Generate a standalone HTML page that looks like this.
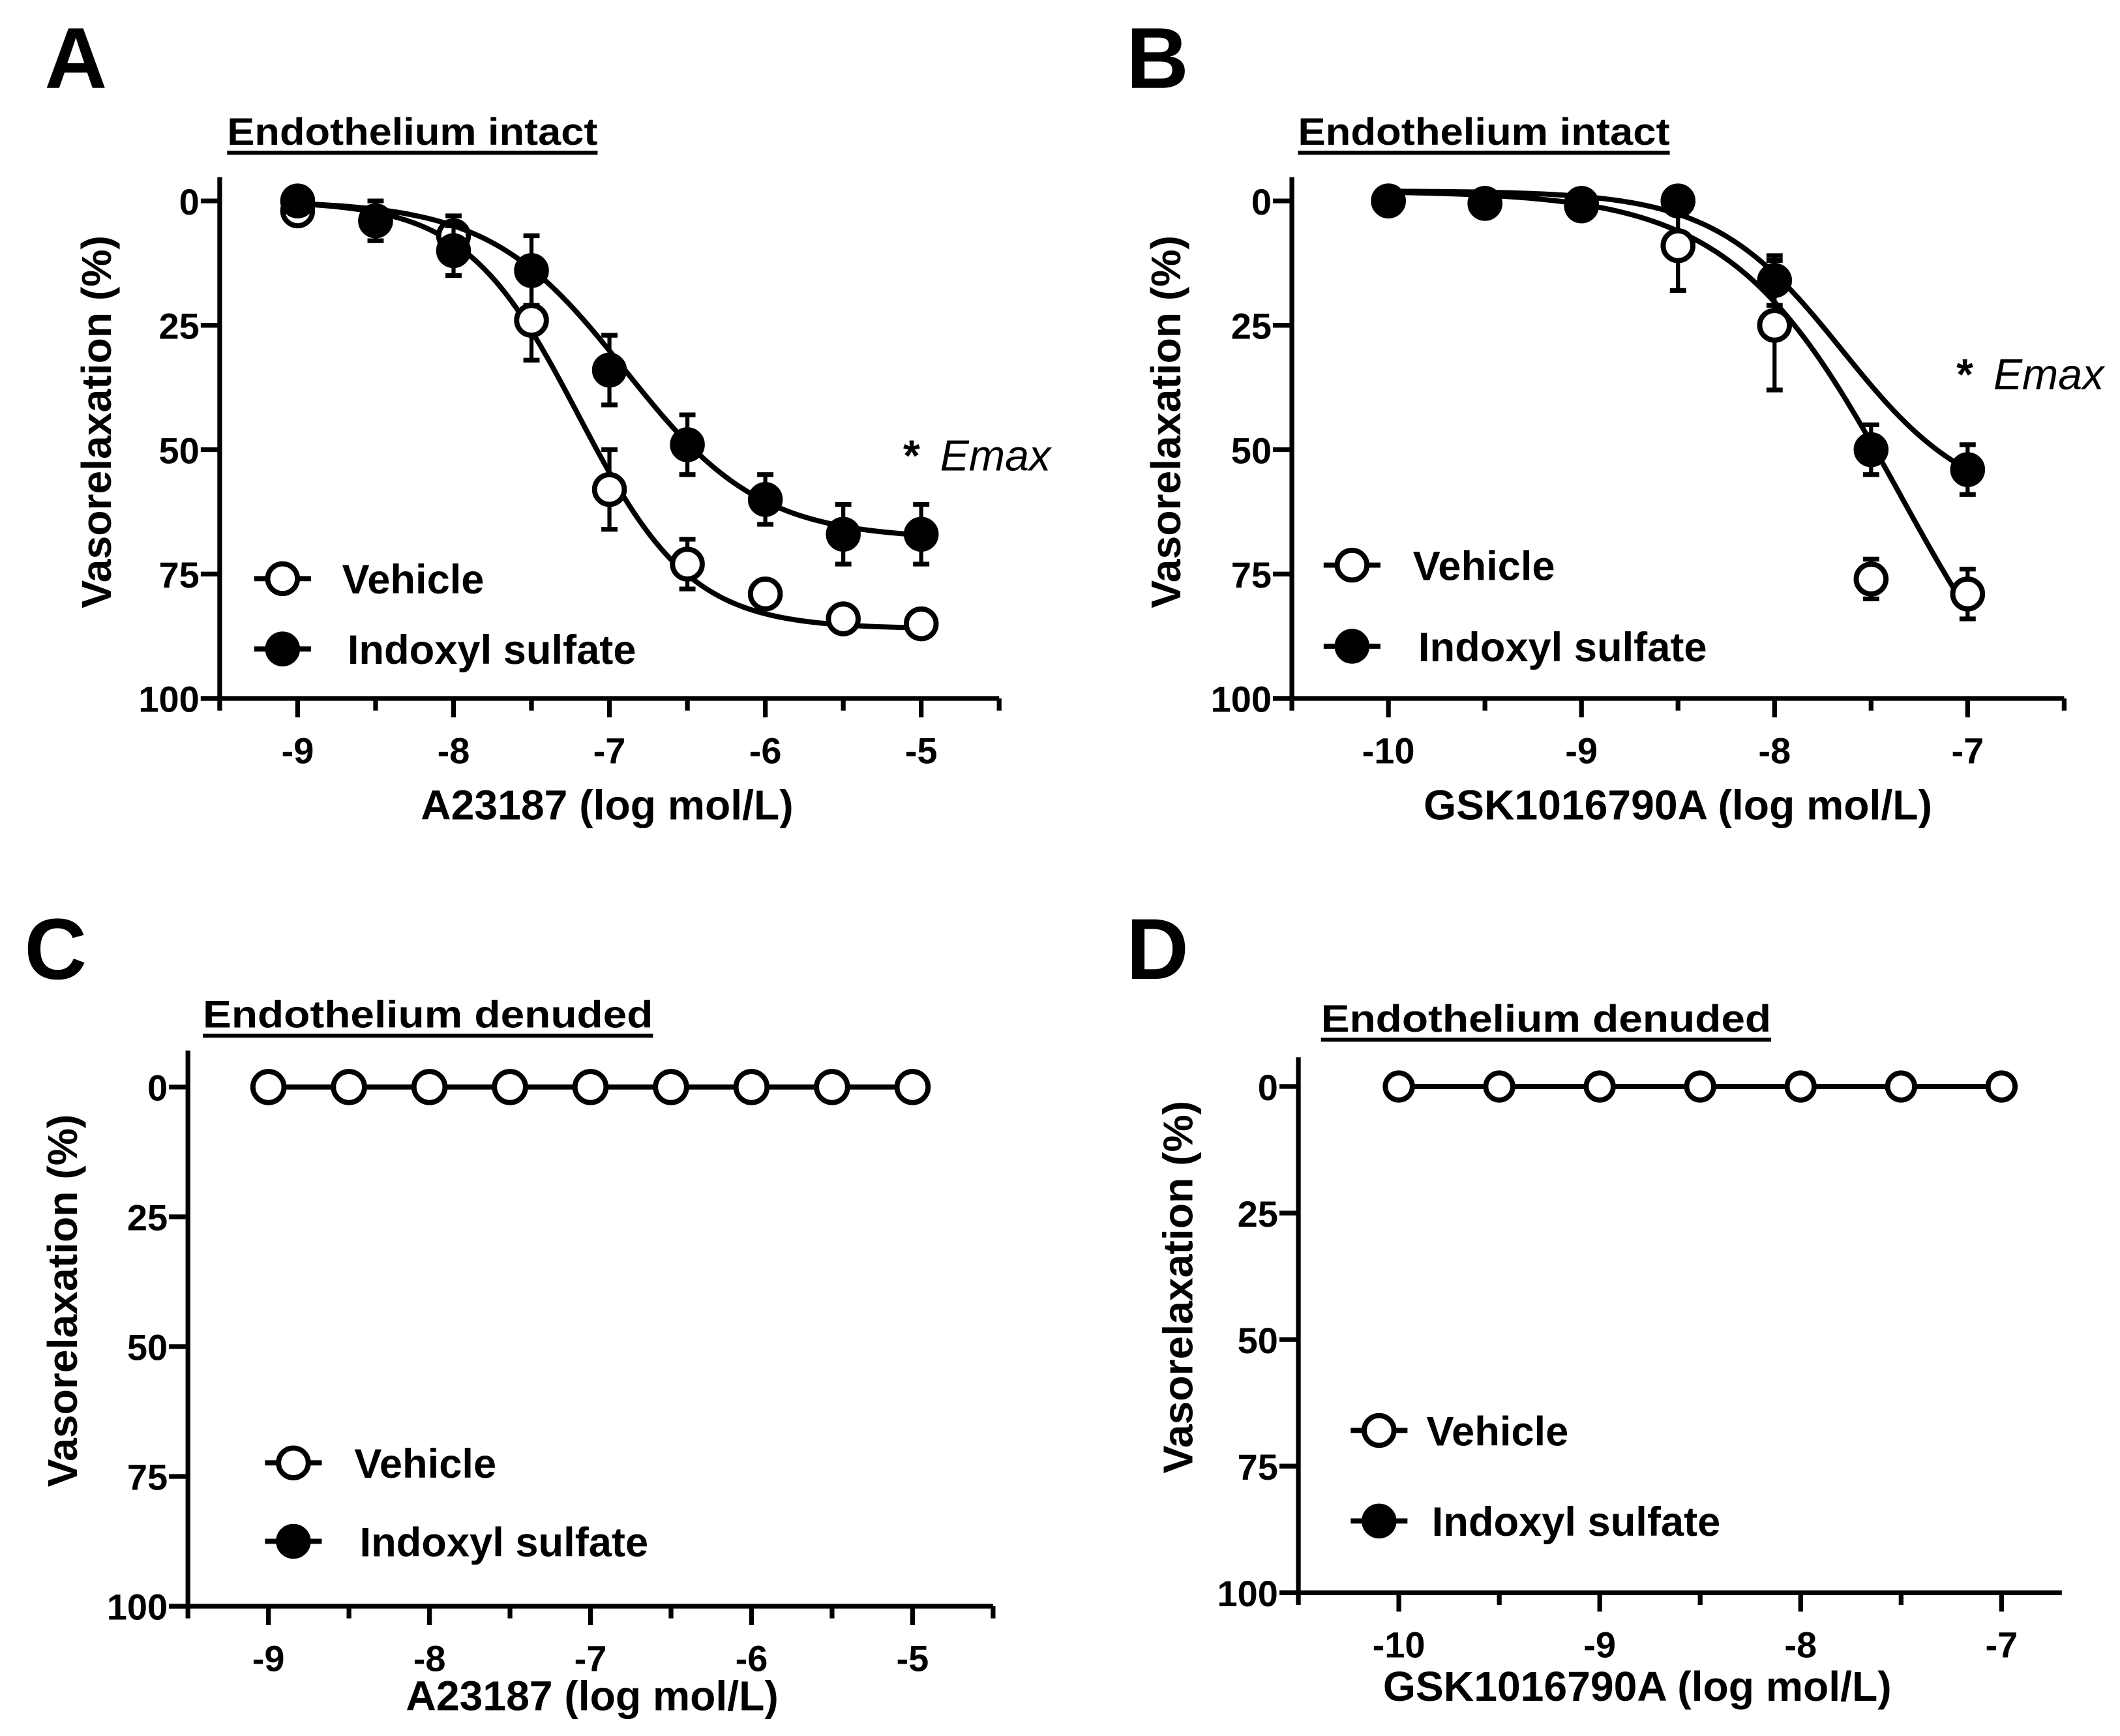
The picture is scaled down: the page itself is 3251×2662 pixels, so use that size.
<!DOCTYPE html>
<html><head><meta charset="utf-8"><style>
html,body{margin:0;padding:0;background:#fff;}
svg{display:block;}
text{font-family:"Liberation Sans",Arial,sans-serif;fill:#000;}
</style></head><body>
<svg id="fig" width="3251" height="2662" viewBox="0 0 1568 1284" preserveAspectRatio="none" xmlns="http://www.w3.org/2000/svg"></svg>
<script>
// ---- Panel A data ----
const aDoses = [-9,-8.5,-8,-7.5,-7,-6.5,-6,-5.5,-5];
const aVehicle = [2,4,7,24,58,73,79,84,85];
const aVehicleErr = [1,2,4,8,8,5,2,2,2];
const aIndoxyl = [0,4,10,14,34,49,60,67,67];
const aIndoxylErr = [1,4,5,7,7,6,5,6,6];
const aVehicleFit = [0,86,-7.2,1.2];
const aIndoxylFit = [0,68,-6.9,1.0];
// ---- Panel B data ----
const bDoses = [-10,-9.5,-9,-8.5,-8,-7.5,-7];
const bVehicle = [0,0.5,1,9,25,76,79];
const bVehicleErr = [1,1,1,9,13,4,5];
const bIndoxyl = [0,0.5,0.5,0,16,50,54];
const bIndoxylErr = [1,1,1,1,5,5,5];
const bVehicleFit = [-2,120,-7.35,1.0];
const bIndoxylFit = [-2,62,-7.65,1.3];
// ---- Panel C / D data ----
const cDoses = [-9,-8.5,-8,-7.5,-7,-6.5,-6,-5.5,-5];
const cVehicle = [0,0,0,0,0,0,0,0,0];
const dDoses = [-10,-9.5,-9,-8.5,-8,-7.5,-7];
const dVehicle = [0,0,0,0,0,0,0];
const yTicks = [0,25,50,75,100];
const aXTicks = [-9,-8,-7,-6,-5];
const bXTicks = [-10,-9,-8,-7];

const NS="http://www.w3.org/2000/svg";
const svg=document.getElementById('fig');
function el(tag,attrs,parent,txt){const e=document.createElementNS(NS,tag);for(const k in attrs)e.setAttribute(k,attrs[k]);if(txt!==undefined)e.textContent=txt;(parent||svg).appendChild(e);return e;}

function panel(cfg){
  const g=el('g',{});
  
  
  const X=v=>cfg.x0+(v-cfg.xmin)*cfg.unit;
  const Y=v=>cfg.y0+v*(cfg.y100-cfg.y0)/100;
  const L=el('text',{x:cfg.lx,y:cfg.ly,'font-size':64,'font-weight':'bold'},g,cfg.letter);
  
  
  const T=el('text',{x:cfg.tx,y:cfg.ty,'font-size':28,'font-weight':'bold',textLength:cfg.tw,lengthAdjust:'spacingAndGlyphs'},g,cfg.title);
  
  
  el('line',{x1:cfg.tx,x2:cfg.tx+cfg.tw,y1:cfg.ty+6,y2:cfg.ty+6,stroke:'#000','stroke-width':3},g);
  const ax=el('g',{},g);
  
  
  el('line',{x1:cfg.x0,x2:cfg.x0,y1:cfg.top,y2:Y(100)+1.5,stroke:'#000','stroke-width':3.5},ax);
  yTicks.forEach(t=>{
    el('line',{x1:cfg.x0-14,x2:cfg.x0,y1:Y(t),y2:Y(t),stroke:'#000','stroke-width':3.5},ax);
    const tl=el('text',{x:cfg.x0-15,y:Y(t)+10,'font-size':27,'font-weight':'bold','text-anchor':'end'},ax,String(t));
    
    
  });
  const xa=el('g',{},g);
  
  
  el('line',{x1:cfg.x0-14,x2:X(cfg.xend),y1:Y(100),y2:Y(100),stroke:'#000','stroke-width':3.5},xa);
  for(let v=cfg.xmin+0.5;v<=cfg.xtickmax+1e-9;v+=0.5){
    const major=Math.abs(v-Math.round(v))<1e-9;
    el('line',{x1:X(v),x2:X(v),y1:Y(100),y2:Y(100)+(major?14:9),stroke:'#000','stroke-width':3.5},xa);
  }
  el('line',{x1:cfg.x0,x2:cfg.x0,y1:Y(100),y2:Y(100)+9,stroke:'#000','stroke-width':3.5},xa);
  cfg.xticks.forEach(t=>{
    const tl=el('text',{x:X(t),y:Y(100)+48,'font-size':27,'font-weight':'bold','text-anchor':'middle'},xa,String(t));
    
    
  });
  const xt=el('text',{x:cfg.xtx,y:cfg.xty,'font-size':31,'font-weight':'bold','text-anchor':'middle'},g,cfg.xtitle);
  
  
  const yt=el('text',{x:0,y:0,'font-size':31,'font-weight':'bold','text-anchor':'middle',transform:`translate(${cfg.ytx},${cfg.yty}) rotate(-90)`},g,'Vasorelaxation (%)');
  
  
  cfg.series.forEach(s=>{
    const sg=el('g',{},g);
    
    
    if(s.fit){
      const [b,tp,ec,h]=s.fit;let d='';
      const x1=s.doses[0],x2=s.doses[s.doses.length-1];
      for(let i=0;i<=120;i++){const v=x1+(x2-x1)*i/120;const yv=b+(tp-b)/(1+Math.pow(10,h*(ec-v)));d+=(i?'L':'M')+X(v).toFixed(2)+','+Y(yv).toFixed(2);}
      const p=el('path',{d:d,fill:'none',stroke:'#000','stroke-width':3.8},sg);
      
      
    } else {
      let d='';s.doses.forEach((v,i)=>{d+=(i?'L':'M')+X(v)+','+Y(s.vals[i]);});
      el('path',{d:d,fill:'none',stroke:'#000','stroke-width':3.8},sg);
    }
    s.doses.forEach((v,i)=>{
      if(s.err){const e=s.err[i];if(e>s.r/cfg.pxper*0.9){
        const eg=el('g',{},sg);
        
        
        el('line',{x1:X(v),x2:X(v),y1:Y(s.vals[i]-e),y2:Y(s.vals[i]+e),stroke:'#000','stroke-width':3},eg);
        el('line',{x1:X(v)-6,x2:X(v)+6,y1:Y(s.vals[i]-e),y2:Y(s.vals[i]-e),stroke:'#000','stroke-width':3.5},eg);
        el('line',{x1:X(v)-6,x2:X(v)+6,y1:Y(s.vals[i]+e),y2:Y(s.vals[i]+e),stroke:'#000','stroke-width':3.5},eg);
      }}
      const c=el('circle',{cx:X(v),cy:Y(s.vals[i]),r:s.r,fill:s.filled?'#000':'#fff',stroke:'#000','stroke-width':3.8},sg);
      
      
    });
  });
  const lg=el('g',{},g);
  
  
  [['Vehicle',false,cfg.ly1,cfg.ltx1],['Indoxyl sulfate',true,cfg.ly2,cfg.ltx2]].forEach(([n,f,y,tx])=>{
    const e=el('g',{},lg);
    
    
    el('line',{x1:cfg.lmx-21,x2:cfg.lmx+21,y1:y,y2:y,stroke:'#000','stroke-width':3.8},e);
    el('circle',{cx:cfg.lmx,cy:y,r:11,fill:f?'#000':'#fff',stroke:'#000','stroke-width':3.8},e);
    el('text',{x:tx,y:y+11,'font-size':30.5,'font-weight':'bold'},e,n);
  });
  if(cfg.emax){
    const em=el('text',{x:cfg.emax[0],y:cfg.emax[1],'font-size':32},g);
    
    
    el('tspan',{'font-weight':'bold'},em,'* ');
    el('tspan',{'font-style':'italic',dx:6},em,'Emax');
  }
}

panel({id:'a',letter:'A',lx:33,ly:65,title:'Endothelium intact',tx:168,ty:107,tw:274,
  x0:162.5,xmin:-9.5,unit:115.3,xend:-4.5,xtickmax:-4.5,y0:148.6,y100:516.6,top:131,pxper:3.68,
  xticks:aXTicks,xtitle:'A23187 (log mol/L)',xtx:449,xty:606,ytx:82,yty:312,
  series:[{name:'vehicle',doses:aDoses,vals:aVehicle,err:aVehicleErr,fit:aVehicleFit,filled:false,r:11},
          {name:'indoxyl-sulfate',doses:aDoses,vals:aIndoxyl,err:aIndoxylErr,fit:aIndoxylFit,filled:true,r:11}],
  lmx:209,ly1:428,ly2:480,ltx1:253,ltx2:257,emax:[668,348]});
panel({id:'b',letter:'B',lx:833,ly:65,title:'Endothelium intact',tx:960,ty:107,tw:275,
  x0:955.5,xmin:-10.5,unit:142.8,xend:-6.5,xtickmax:-6.5,y0:148.6,y100:516.6,top:131,pxper:3.68,
  xticks:bXTicks,xtitle:'GSK1016790A (log mol/L)',xtx:1241,xty:606,ytx:873,yty:312,
  series:[{name:'vehicle',doses:bDoses,vals:bVehicle,err:bVehicleErr,fit:bVehicleFit,filled:false,r:11},
          {name:'indoxyl-sulfate',doses:bDoses,vals:bIndoxyl,err:bIndoxylErr,fit:bIndoxylFit,filled:true,r:11}],
  lmx:1000,ly1:418,ly2:478,ltx1:1045,ltx2:1049,emax:[1447,288]});
panel({id:'c',letter:'C',lx:18,ly:724,title:'Endothelium denuded',tx:150,ty:760,tw:333,
  x0:139,xmin:-9.5,unit:119.1,xend:-4.5,xtickmax:-4.5,y0:804,y100:1188,top:777,pxper:3.84,
  xticks:aXTicks,xtitle:'A23187 (log mol/L)',xtx:438,xty:1265,ytx:57,yty:962,
  series:[{name:'vehicle',doses:cDoses,vals:cVehicle,err:null,fit:null,filled:false,r:11.5}],
  lmx:217,ly1:1082,ly2:1140,ltx1:262,ltx2:266,emax:null});
panel({id:'d',letter:'D',lx:833,ly:724,title:'Endothelium denuded',tx:977,ty:763,tw:333,
  x0:960.3,xmin:-10.5,unit:148.6,xend:-6.7,xtickmax:-7,y0:803.6,y100:1178,top:782,pxper:3.74,
  xticks:bXTicks,xtitle:'GSK1016790A (log mol/L)',xtx:1211,xty:1258,ytx:882,yty:952,
  series:[{name:'vehicle',doses:dDoses,vals:dVehicle,err:null,fit:null,filled:false,r:10}],
  lmx:1020,ly1:1058,ly2:1125,ltx1:1055,ltx2:1059,emax:null});
</script>
</body></html>
